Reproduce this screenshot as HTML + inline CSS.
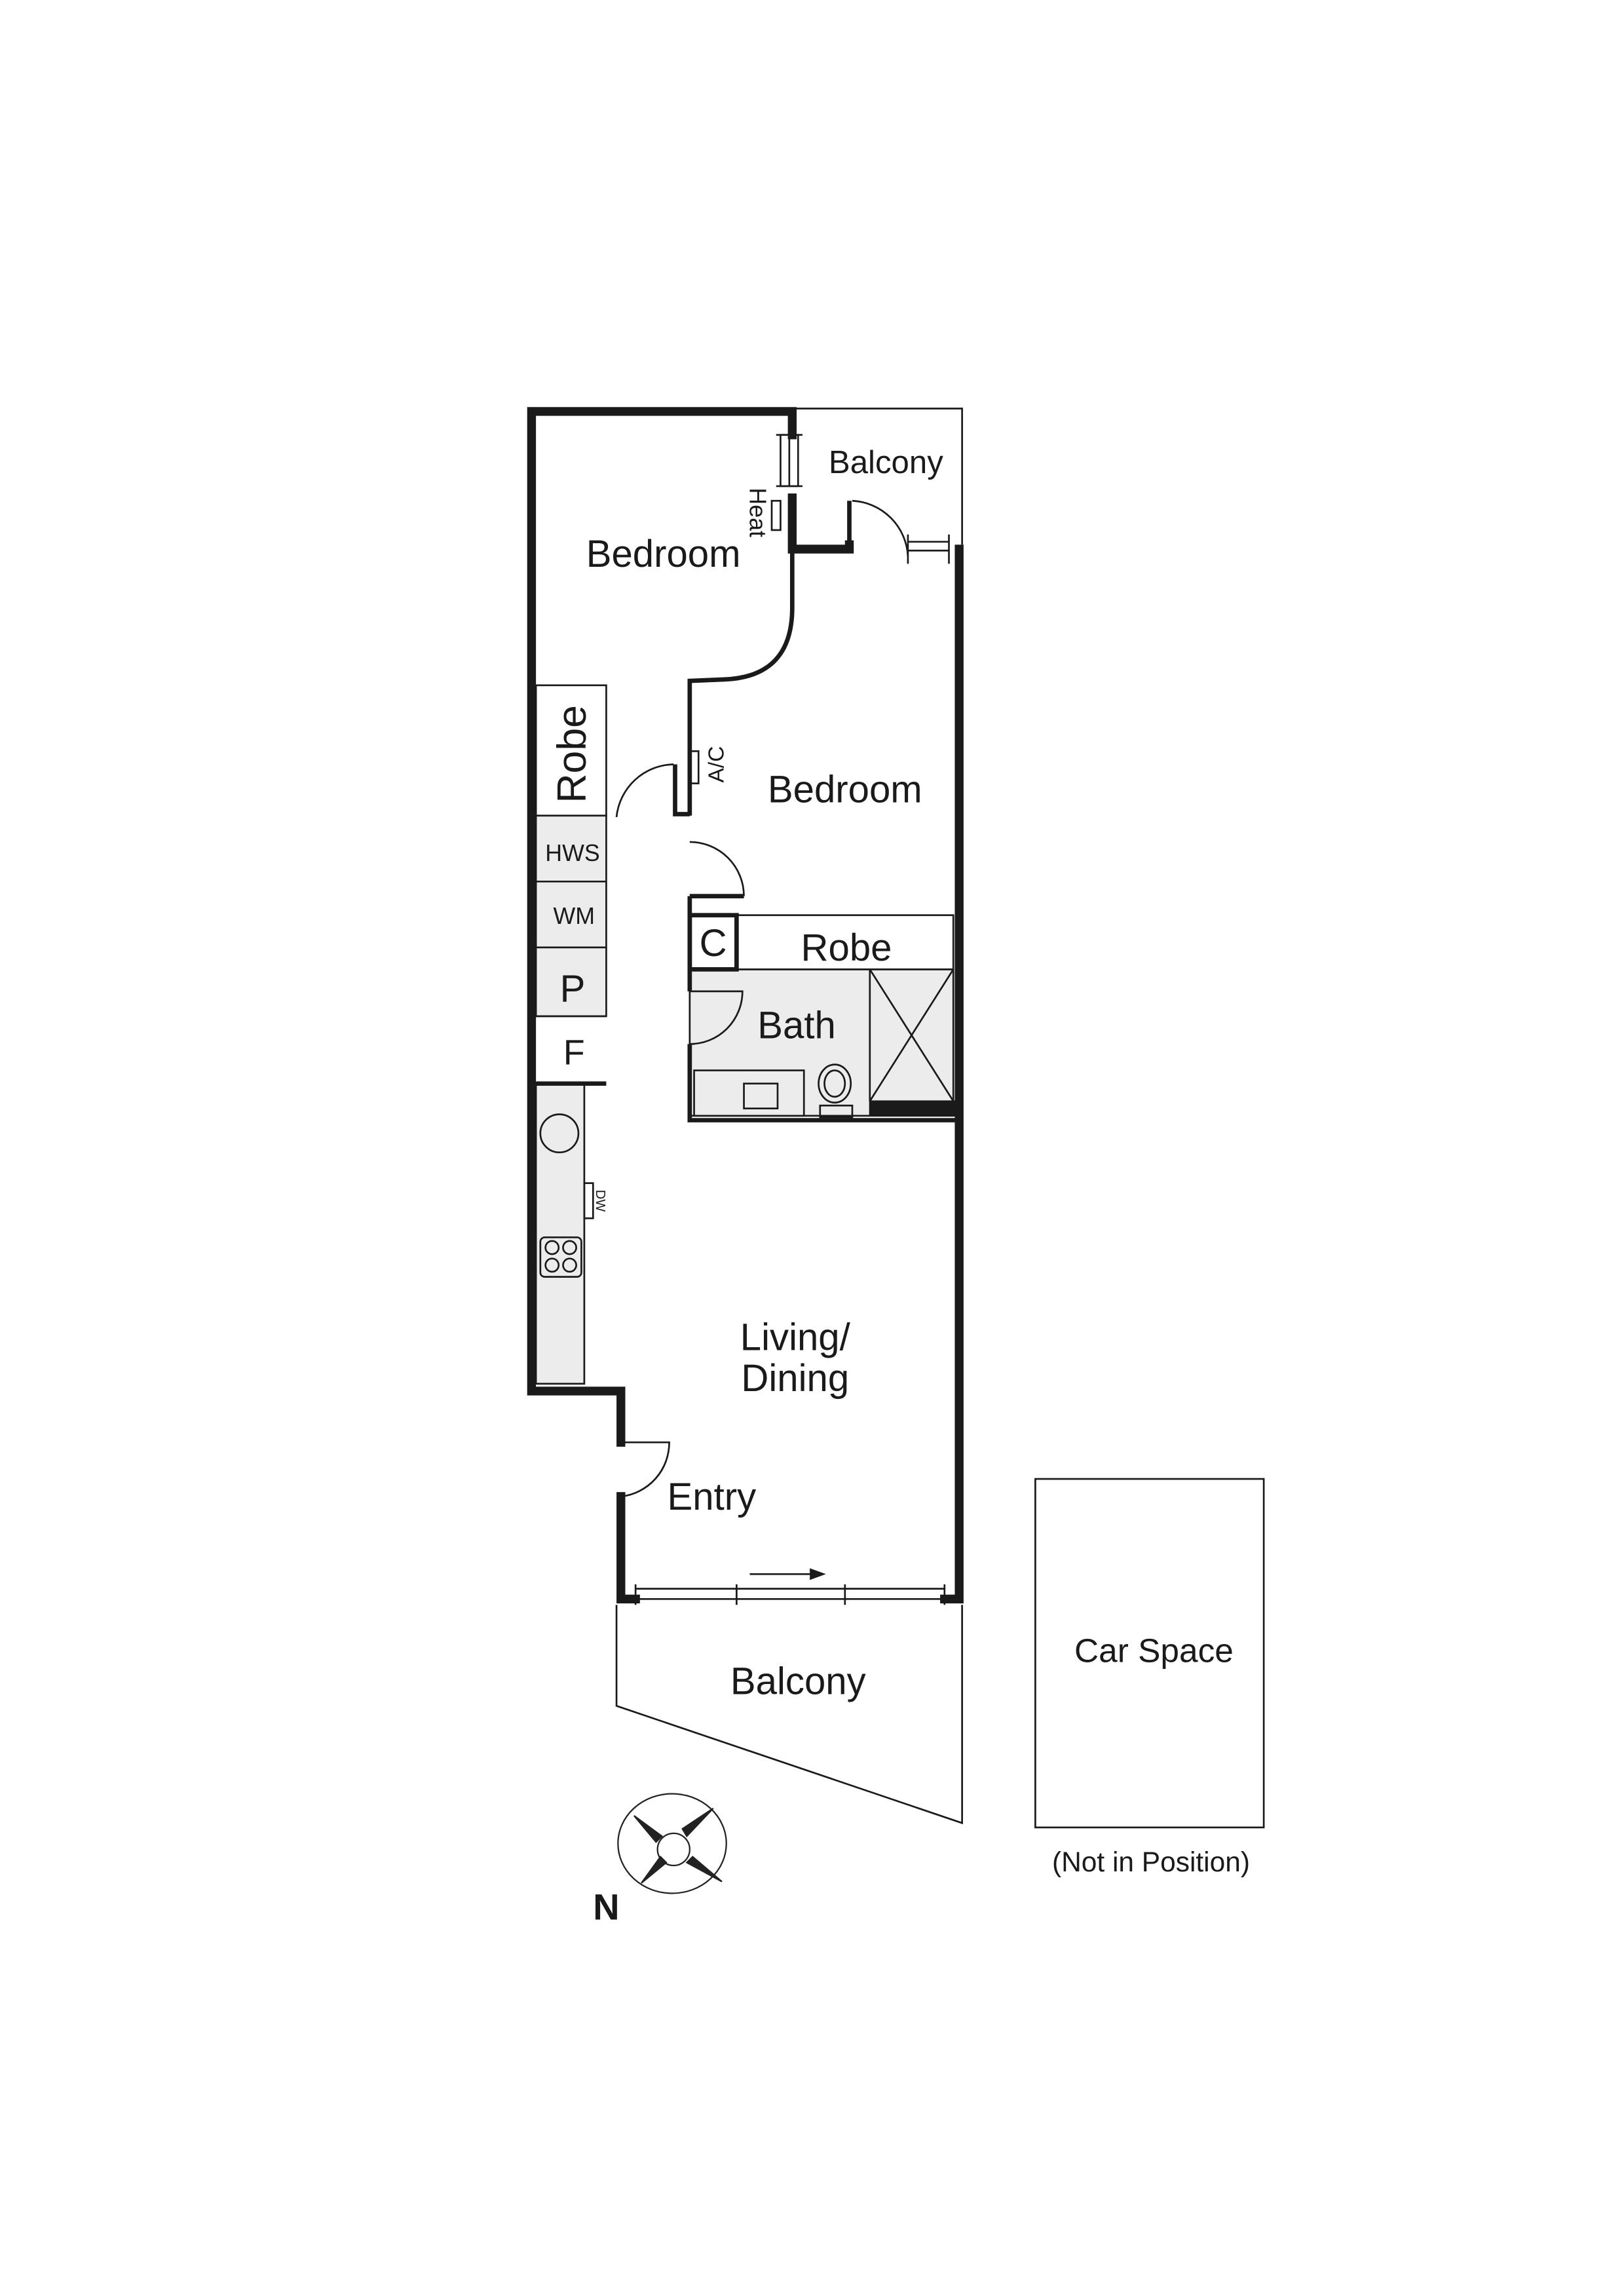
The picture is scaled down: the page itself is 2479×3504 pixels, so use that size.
<!DOCTYPE html>
<html><head><meta charset="utf-8"><style>html,body{margin:0;padding:0;background:#fff}svg{display:block}</style></head>
<body>
<svg width="2479" height="3504" viewBox="0 0 1109 1568" preserveAspectRatio="none" xmlns="http://www.w3.org/2000/svg" font-family="Liberation Sans, sans-serif" fill="none" stroke="#1a1a1a">
<g fill="#ececec" stroke="#1a1a1a" stroke-width="1.2">
<rect x="366" y="557" width="48" height="137"/>
<line x1="366" y1="602" x2="414" y2="602"/><line x1="366" y1="647" x2="414" y2="647"/>
<rect x="366" y="740" width="33" height="205"/>
<rect x="471" y="662" width="180" height="100"/>
</g>
<g stroke-width="1.2">
<rect x="366" y="468" width="48" height="89" fill="#fff"/>
<line x1="366" y1="694" x2="414" y2="694"/>
<polyline points="541,279 657,279 657,372"/>
<rect x="503" y="625" width="148" height="37"/>
<line x1="594" y1="662" x2="594" y2="752"/>
<line x1="594" y1="662" x2="651" y2="752"/><line x1="651" y1="662" x2="594" y2="752"/>
<rect x="474" y="731" width="75" height="31"/>
<rect x="508" y="740" width="23" height="17"/>
<ellipse cx="570" cy="740" rx="11" ry="13"/><ellipse cx="570" cy="740" rx="7" ry="9"/>
<rect x="560" y="755" width="22" height="8"/>
<circle cx="382" cy="774" r="13"/>
<rect x="369" y="845" width="28" height="27" rx="3"/>
<circle cx="377" cy="852" r="4.5"/><circle cx="389" cy="852" r="4.5"/><circle cx="377" cy="864" r="4.5"/><circle cx="389" cy="864" r="4.5"/>
<rect x="399" y="808" width="6" height="24"/>
<rect x="471" y="513" width="6" height="22"/>
<rect x="527" y="342" width="6" height="20"/>
<path d="M421,558 A40,40 0 0 1 460,522"/>
<path d="M471,575 A37,37 0 0 1 508,612"/>
<path d="M471,677 L507,677 A36,36 0 0 1 471,713"/>
<path d="M424,985 L457,985 A37,37 0 0 1 424,1022"/>
<path d="M582,342 A40,40 0 0 1 620,380"/>
<rect x="533" y="297" width="12" height="35"/><line x1="539" y1="297" x2="539" y2="332"/>
<line x1="530" y1="297" x2="548" y2="297"/><line x1="530" y1="332" x2="548" y2="332"/>
<line x1="620" y1="365" x2="620" y2="385"/><line x1="648" y1="365" x2="648" y2="385"/>
<line x1="620" y1="370" x2="648" y2="370"/><line x1="620" y1="376" x2="648" y2="376"/>
<line x1="434" y1="1085" x2="645" y2="1085"/><line x1="434" y1="1092" x2="645" y2="1092"/>
<line x1="434" y1="1082" x2="434" y2="1096"/><line x1="503" y1="1082" x2="503" y2="1096"/><line x1="577" y1="1082" x2="577" y2="1096"/><line x1="645" y1="1082" x2="645" y2="1096"/>
<line x1="512" y1="1075" x2="555" y2="1075"/>
<polyline points="421,1096 421,1165 657,1245 657,1096"/>
<rect x="707" y="1010" width="156" height="238"/>
</g>
<polygon points="553,1071 564,1075 553,1079" fill="#1a1a1a" stroke="none"/>
<g stroke="#1a1a1a" stroke-width="6" stroke-linejoin="miter" stroke-linecap="square">
<polyline points="541,297 541,281 363,281 363,950 424,950 424,985"/>
<polyline points="424,1022 424,1092 434,1092"/>
<polyline points="541,340 541,375 580,375 580,372"/>
<polyline points="655,375 655,1092 645,1092"/>
<rect x="594" y="752" width="58" height="10" fill="#1a1a1a" stroke-width="1"/>
</g>
<g stroke="#1a1a1a" stroke-width="3">
<path d="M541,375 L541,415 Q541,462 495,464 L471,465 L471,557"/>
<polyline points="461,522 461,556 471,556"/>
<line x1="471" y1="612" x2="508" y2="612"/>
<line x1="471" y1="612" x2="471" y2="662"/>
<rect x="471" y="625" width="32" height="37"/>
<line x1="471" y1="662" x2="471" y2="677"/>
<polyline points="471,713 471,765 655,765"/>
<line x1="366" y1="740" x2="414" y2="740"/>
<line x1="580" y1="342" x2="580" y2="375"/>
</g>
<g stroke="#222" stroke-width="1">
<ellipse cx="459" cy="1259" rx="37" ry="34"/>
<circle cx="460" cy="1263" r="11"/>
<polygon points="433,1240 452,1254 448,1258" fill="#222"/>
<polygon points="487,1235 469,1254 466,1249" fill="#222"/>
<polygon points="493,1285 469,1272 473,1268" fill="#222"/>
<polygon points="438,1286 451,1268 455,1272" fill="#222"/>
</g>
<g fill="#1a1a1a" stroke="none" text-anchor="middle">
<text x="605" y="323" font-size="22">Balcony</text>
<text x="453" y="387" font-size="26">Bedroom</text>
<text x="577" y="548" font-size="26">Bedroom</text>
<text x="391" y="588" font-size="16">HWS</text>
<text x="392" y="631" font-size="16">WM</text>
<text x="391" y="684" font-size="26">P</text>
<text x="392" y="727" font-size="24">F</text>
<text x="487" y="653" font-size="26">C</text>
<text x="578" y="656" font-size="26">Robe</text>
<text x="544" y="709" font-size="26">Bath</text>
<text x="543" y="922" font-size="26">Living/</text>
<text x="543" y="950" font-size="26">Dining</text>
<text x="486" y="1031" font-size="26">Entry</text>
<text x="545" y="1157" font-size="26">Balcony</text>
<text x="788" y="1135" font-size="23">Car Space</text>
<text x="786" y="1278" font-size="19">(Not in Position)</text>
<text x="414" y="1311" font-size="25" font-weight="bold">N</text>
<text transform="translate(400,515) rotate(-90)" font-size="28">Robe</text>
<text transform="translate(512,350) rotate(90)" font-size="16">Heat</text>
<text transform="translate(494,522) rotate(-90)" font-size="15">A/C</text>
<text transform="translate(407,820) rotate(90)" font-size="9">DW</text>
</g>
</svg>
</body></html>
